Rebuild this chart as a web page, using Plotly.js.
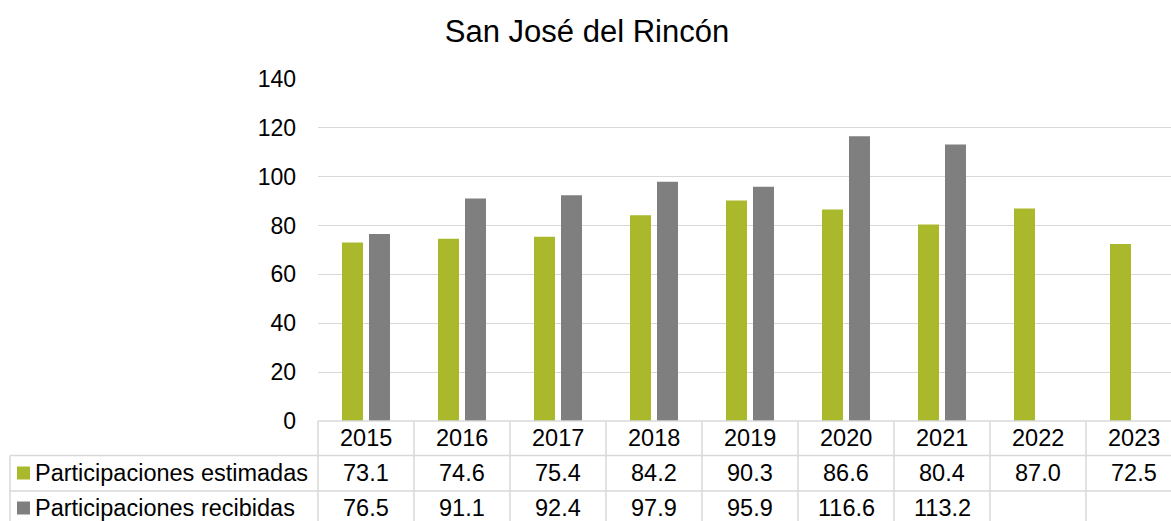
<!DOCTYPE html>
<html>
<head>
<meta charset="utf-8">
<script src="https://cdn.plot.ly/plotly-3.0.1.min.js"></script>
<style>
  html, body { margin: 0; padding: 0; overflow: hidden; background: #fff; }
  #chart { width: 1183px; height: 521px; }
</style>
</head>
<body>
<div id="chart"></div>
<script>
// ---- data ----
const chartTitle = 'San José del Rincón';
const categories = ['2015', '2016', '2017', '2018', '2019', '2020', '2021', '2022', '2023'];
const estimadas = [73.1, 74.6, 75.4, 84.2, 90.3, 86.6, 80.4, 87.0, 72.5];
const recibidas = [76.5, 91.1, 92.4, 97.9, 95.9, 116.6, 113.2, null, null];
const seriesNames = ['Participaciones estimadas', 'Participaciones recibidas'];
const yTickValues = [0, 20, 40, 60, 80, 100, 120, 140];

// ---- styling / geometry ----
const seriesColors = ['#A9B92B', '#7F7F7F'];
const W = 1183, H = 521, L = 318, R = 1, T = 79, B = 100;
const plotW = W - L - R, plotH = H - T - B;
const px2x = p => (p - L) / plotW;
const py2y = p => (H - B - p) / plotH;
const FONT = 'Liberation Sans, Arial, sans-serif';
const lineColor = '#d9d9d9';
const tableFontSize = 23.5;

const headerMid = 438, row1Mid = 473, row2Mid = 508;
const rowTop1 = 455.5, rowTop2 = 491, tableBottom = 527;

const seriesValues = [estimadas, recibidas];

const traces = seriesValues.map((vals, k) => ({
  type: 'bar',
  name: seriesNames[k],
  x: categories,
  y: vals,
  marker: { color: seriesColors[k], line: { width: 0 } },
  hoverinfo: 'x+y+name',
  showlegend: false
}));

const annotations = [];
const shapes = [];

// header row (years) - category axis positions by index
categories.forEach((c, i) => {
  annotations.push({
    xref: 'x', yref: 'paper', x: i, y: py2y(headerMid),
    text: c, showarrow: false, xanchor: 'center', yanchor: 'middle',
    font: { family: FONT, size: tableFontSize, color: '#000' }
  });
});

// data rows
const rowMids = [row1Mid, row2Mid];
seriesValues.forEach((vals, k) => {
  vals.forEach((v, i) => {
    if (v === null) return;
    annotations.push({
      xref: 'x', yref: 'paper', x: i, y: py2y(rowMids[k]),
      text: v.toFixed(1), showarrow: false, xanchor: 'center', yanchor: 'middle',
      font: { family: FONT, size: tableFontSize, color: '#000' }
    });
  });
  // legend key + label
  annotations.push({
    xref: 'paper', yref: 'paper', x: px2x(33), y: py2y(rowMids[k]),
    text: seriesNames[k], showarrow: false, xanchor: 'left', yanchor: 'middle',
    font: { family: FONT, size: tableFontSize, color: '#000' }
  });
  shapes.push({
    type: 'rect', xref: 'paper', yref: 'paper',
    x0: px2x(17), x1: px2x(30),
    y0: py2y(rowMids[k] + 6.5), y1: py2y(rowMids[k] - 6.5),
    fillcolor: seriesColors[k], line: { width: 0 }
  });
});

// table grid lines
const hl = (y, x0) => ({
  type: 'line', xref: 'paper', yref: 'paper',
  x0: px2x(x0), x1: 1.01, y0: py2y(y), y1: py2y(y),
  line: { color: lineColor, width: 1.5 }
});
shapes.push(hl(H - B, L));
shapes.push(hl(rowTop1, 10));
shapes.push(hl(rowTop2, 10));
shapes.push({
  type: 'line', xref: 'paper', yref: 'paper',
  x0: px2x(10), x1: px2x(10), y0: py2y(rowTop1), y1: py2y(tableBottom),
  line: { color: lineColor, width: 1.5 }
});
for (let i = 0; i <= categories.length; i++) {
  shapes.push({
    type: 'line', xref: 'paper', yref: 'paper',
    x0: i / categories.length, x1: i / categories.length,
    y0: 0, y1: py2y(tableBottom),
    line: { color: lineColor, width: 1.5 }
  });
}

const layout = {
  width: W, height: H,
  margin: { l: L, r: R, t: T, b: B, pad: 0 },
  paper_bgcolor: '#fff', plot_bgcolor: '#fff',
  font: { family: FONT, size: 23, color: '#000' },
  title: {
    text: chartTitle,
    font: { family: FONT, size: 31, color: '#000' },
    xref: 'container', yref: 'container',
    x: 587 / W, xanchor: 'center',
    y: 1 - 31 / H, yanchor: 'middle'
  },
  barmode: 'group',
  bargap: 0.4375,
  bargroupgap: 0.222,
  xaxis: {
    type: 'category',
    range: [-0.5, categories.length - 0.5],
    autorange: false,
    showticklabels: false,
    showgrid: false, zeroline: false, showline: false, ticks: ''
  },
  yaxis: {
    range: [0, 140],
    autorange: false,
    tickvals: yTickValues,
    ticktext: yTickValues.map(String),
    showgrid: true, gridcolor: lineColor, gridwidth: 1,
    zeroline: false, showline: false, ticks: '',
    ticklabelstandoff: 21,
    tickfont: { family: FONT, size: 23, color: '#000' }
  },
  shapes: shapes,
  annotations: annotations,
  showlegend: false
};

Plotly.newPlot('chart', traces, layout, { displayModeBar: false, staticPlot: true });
</script>
</body>
</html>
